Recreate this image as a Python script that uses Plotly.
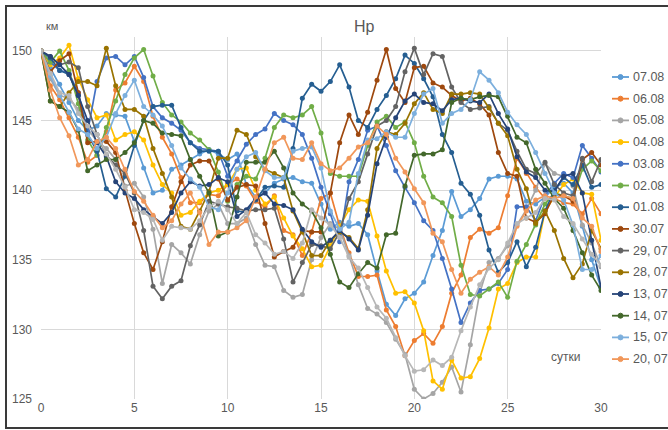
import plotly.graph_objects as go

x_days = [i * 0.5 for i in range(61)]

series_names = ["07.08", "06.08", "05.08", "04.08", "03.08", "02.08", "01.08",
                "30.07", "29, 07", "28, 07", "13, 07", "14, 07", "15, 07", "20, 07", ""]
series_colors = ["#5B9BD5", "#ED7D31", "#A5A5A5", "#FFC000", "#4472C4", "#70AD47", "#255E91",
                 "#9E480E", "#636363", "#997300", "#264478", "#43682B", "#7CAFDD", "#F1975A", "#B7B7B7"]

s0708 = [150, 148.8, 147.6, 146.3, 145, 144.3, 144.6, 145.5, 145.4, 145.3,
         143.5, 141.6, 139.8, 140, 141.5, 141.8, 142.2, 142.6, 142.9, 142.6,
         142.2, 142.6, 140.4, 139.5, 139.8, 140.5, 140.8, 140.9, 140.6, 140.5,
         139, 137.2, 137.7, 137.4, 137.6, 136.8, 134.2, 131.8, 131, 132.2,
         132.6, 133.4, 135.3, 137.1, 139.9, 138.1, 138.6, 139.4, 140.8, 141,
         141, 140.8, 139.2, 139, 139.5, 140.2, 140.5, 139.8, 137.4, 135,
         133]
s0608 = [150, 147.5, 146.5, 145.2, 143.8, 142, 142.5, 144.2, 147.2, 147.7,
         148.9, 147.8, 145.3, 143.8, 142.6, 140.9, 139.1, 139.1, 139.7, 139.6,
         140.4, 140.8, 140.3, 139.2, 138.8, 139.6, 137.1, 136.8, 135.3, 137,
         139.4, 139.8, 137.4, 135.5, 133.8, 133.8, 133.9, 131.4, 130.2, 128.1,
         129.2, 129.7, 129, 130.2, 132.6, 133.9, 136.6, 137.2, 136.9, 137.3,
         139.6, 142.3, 141.2, 140.2, 139.4, 139.4, 139.1, 139, 138.3, 139.4,
         138.3]
s0508 = [150, 148, 146.8, 146.6, 145.8, 144.4, 143.5, 143, 142.2, 140.3,
         140.5, 139.5, 137.2, 133.3, 136.1, 135.5, 134.7, 136.8, 138.5, 139,
         137.6, 137.6, 138, 136.1, 134.6, 134.5, 132.8, 132.3, 132.5, 135,
         136.6, 137.6, 137.2, 135.3, 133.2, 131.5, 131.1, 130.5, 129.3, 128.2,
         125.7, 125, 125.4, 126.2, 127.3, 125.5, 128.9, 132.6, 134.8, 135.1,
         136, 137.5, 138.6, 140, 141.9, 141.2, 141, 140.3, 137.5, 136.2,
         134.5]
s0408 = [150, 149, 149.5, 150.4, 148, 146.5, 145.2, 145.4, 143.6, 144,
         144.2, 143.6, 141.8, 140.4, 139.8, 138.2, 138.4, 139.2, 139.8, 140,
         140.4, 141.5, 141.6, 140, 139, 139.5, 138, 136.7, 135.8, 134.5,
         134.6, 136, 137.4, 138.6, 139.3, 139.2, 136.7, 134.2, 132.6, 132.7,
         131.9, 129.9, 126.3, 125.7, 127.8, 126.5, 126.6, 127.9, 130.1, 132.9,
         133.3, 134.8, 135.2, 135.2, 138.5, 139.5, 140.4, 140.8, 139.8, 139.7,
         136.4]
s0308 = [150, 149.2, 148.6, 148.4, 147, 144.2, 147.8, 149.5, 149.6, 149,
         149.6, 148.1, 146, 145.2, 144.8, 144.3, 143.4, 143, 142.9, 142.8,
         141, 142.1, 143.3, 144, 144.4, 145.5, 145, 144.7, 144, 142.3,
         140.2, 138.3, 136.3, 140.6, 142.2, 144.3, 144.6, 143.2, 141.4, 140.2,
         139.1, 137.8, 137.1, 135.1, 132.9, 130.5, 131.9, 132.8, 132.9, 133.3,
         134.3, 138.8, 138.8, 137.8, 139.6, 140.5, 141.2, 140.9, 143.2, 142.3,
         141.3]
s0208 = [150, 149.2, 150, 148.6, 146.2, 143.6, 142.5, 144.5, 146.4, 148.3,
         149.5, 150.1, 148.2, 146.3, 145.4, 144.9, 144.1, 143.6, 142.9, 141.3,
         139.2, 140.4, 141, 140.8, 142.3, 144.5, 145.4, 145.2, 145.4, 146,
         144.1, 141.2, 141, 141, 141, 143.2, 144.9, 145.3, 144.5, 144.9,
         143.4, 141, 139.5, 139.1, 138.1, 134.6, 132.5, 132.4, 132.9, 133.4,
         132.3, 134.9, 136.1, 137.5, 139, 139.8, 139.6, 139.4, 141.5, 142.1,
         141.4]
s0108 = [150, 149.5, 148.6, 148.3, 146.8, 144, 142.8, 140.1, 139.5, 141,
         143.2, 145, 146, 146.1, 146.1, 144.5, 143.4, 142.8, 142.8, 142.8,
         141.8, 138.5, 138.4, 139.3, 140.2, 140.3, 140.2, 143, 146.6, 147.6,
         147.1, 147.8, 149, 147.4, 145, 144.5, 145.8, 146.8, 148, 149.7,
         149.1, 148, 146.7, 144, 142.7, 140.5, 139.7, 138.2, 135.7, 134.1,
         134.8, 136.3, 134.5, 135.9, 138.5, 140, 140.9, 140.4, 141.8, 140.2,
         140.4]
s3007 = [150, 148.5, 149.3, 149.8, 147, 143.4, 143.5, 143.5, 142.7, 140,
         137.6, 135.5, 134.3, 136.3, 138.8, 140.6, 141.8, 142.1, 142.1, 140.8,
         139.3, 140.2, 140.4, 140.3, 137.6, 135.2, 135.6, 135.9, 137.1, 137,
         137, 139.8, 143.4, 145.4, 144, 145.6, 147.9, 150.1, 147.3, 146.3,
         148.8, 148.9, 147.7, 147.4, 146.8, 146.4, 146.6, 146.2, 145.4, 142.7,
         141.2, 141, 138, 137.7, 138.3, 139.7, 139.6, 139.2, 142.2, 142.7,
         141.8]
s2907 = [150, 149.6, 149, 149.2, 148.8, 146, 144, 142.5, 141.8, 141.2,
         139.8, 137.1, 133.1, 132.2, 133.1, 133.5, 136, 137.5, 139.2, 139,
         138.8, 138.7, 138.5, 138.6, 138.6, 138.7, 136.5, 133.4, 134.8, 136.1,
         136, 135.8, 137, 139.4, 140.6, 142.6, 144.6, 145, 146, 148.5,
         150.2, 148.3, 149.8, 149.6, 147.4, 146.3, 145.8, 145.9, 146, 144.8,
         144.3, 142.8, 141.5, 141.2, 142, 140.4, 139.8, 139.6, 142.3, 140.6,
         142.2]
s2807 = [150, 146.4, 146, 147, 147.8, 147.8, 147.5, 150.2, 147.5, 145.8,
         145.8, 145.3, 143, 141.2, 139.5, 137.4, 137.2, 138.5, 139.9, 142.3,
         142.3, 144.3, 144, 142.4, 141.5, 141.2, 140.9, 138.5, 137, 135.3,
         135.3, 136.4, 137, 136.6, 135.8, 138.6, 143, 144.2, 144, 144.8,
         146.2, 147, 145.8, 145.5, 146.9, 146.9, 147, 146.9, 145.9, 144.8,
         143.9, 141.5, 140.1, 137.6, 138.5, 137.1, 135.1, 133.7, 134.7, 137.1,
         135.8]
s1307 = [150, 149.6, 149, 148.3, 146.8, 145, 143.4, 142.4, 140.6, 139.8,
         139.4, 138.6, 138.1, 137.6, 138.4, 139.8, 140.6, 140.3, 140.4, 140.9,
         140.6, 138.1, 138.6, 139.4, 139.8, 139, 138.9, 138.6, 137.2, 136.3,
         135.9, 136.4, 137.1, 136.5, 135.7, 138.2, 141.9, 143.8, 145.2, 146.4,
         146.9, 146.3, 146.2, 145.7, 146.5, 146.6, 146.4, 146.3, 146.9, 145.5,
         144.4, 142.4, 141.3, 140.9, 140, 139.9, 141, 141.2, 139.8, 136.4,
         133]
s1407 = [150, 146.4, 146, 145.6, 144.3, 141.4, 141.8, 142.2, 142.2, 142.7,
         143.4, 145, 144.8, 144.1, 144, 143.9, 142.2, 141, 139.8, 136.7,
         137, 139.5, 142, 142, 142, 142.8, 141.6, 139.8, 139, 138.5,
         137.3, 135.4, 133.4, 133, 134, 134.8, 134.4, 136.8, 136.9, 140.3,
         142.5, 142.6, 142.6, 142.9, 146.3, 146.6, 146.5, 146.7, 146.8, 146.7,
         145.3, 143.8, 143.4, 141.5, 140.5, 139.4, 138.7, 137.1, 135.5, 133.9,
         132.8]
s1507 = [150, 148.2, 146.8, 145.6, 144.4, 144, 143, 143.8, 145.5, 146.8,
         147.9, 146, 145.4, 144.6, 143.2, 141.6, 140.8, 140.2, 138.8, 138.6,
         139.8, 141.5, 142.4, 142.7, 141.4, 140.9, 140.9, 142.8, 143, 143.1,
         141.6, 138.5, 137.2, 137.7, 141.2, 143.6, 143.7, 144.2, 143.8, 143.8,
         145.5, 146.9, 147.3, 144.8, 145.5, 145.8, 146.5, 148.5, 147.9, 147,
         145.6, 144.7, 144, 142.7, 141.2, 139.8, 139.3, 137.5, 134.3, 134.3,
         135.3]
s2007 = [150, 147.2, 145.2, 143.9, 141.8, 142.2, 143.5, 143.8, 143, 141.5,
         139.9, 139.2, 138.2, 137.3, 137.8, 139, 139.8, 138.4, 136.1, 137,
         137, 137.3, 137.8, 139.5, 141.5, 143.4, 143.8, 142.3, 142.2, 143.4,
         141.9, 141.4, 141.6, 142.3, 143.1, 143.4, 144.6, 144, 142.3, 141.3,
         140.1, 139.1, 136.9, 136.3, 134.3, 132.6, 133.6, 134.1, 134.5, 133.9,
         135.2, 137.4, 138.5, 139.3, 139.6, 139.4, 139.6, 139.4, 138, 137.4,
         135.6]
s_extra = [150, 148.4, 147, 146.8, 145.5, 144.6, 144, 142.6, 141.5, 140.2,
           138.6, 138.4, 137.9, 136.4, 137.4, 137.3, 137.2, 137.8, 138.8, 139.2,
           138.6, 137.6, 138.4, 136.8, 136.2, 135.4, 135.6, 135.1, 136.2, 138.6,
           138, 137.5, 136.6, 135.2, 134.4, 133, 131.6, 130.8, 129.4, 128.1,
           127, 127.1, 127.8, 127.4, 128, 129.9, 131.6, 133.2, 134.4, 135,
           136.2, 137.6, 138, 138.4, 139.4, 139.3, 138.1, 137.6, 136.5, 135.4,
           134.6]

all_series = [s0708, s0608, s0508, s0408, s0308, s0208, s0108,
              s3007, s2907, s2807, s1307, s1407, s1507, s2007, s_extra]

y_ticks = [125, 130, 135, 140, 145, 150]
x_ticks = [0, 5, 10, 15, 20, 25, 30]

FONT = "Liberation Sans, Arial, sans-serif"
TXT = "#595959"
W, H = 668, 430
L, R, T, B = 41, 67, 37, 31
pw, ph = W - L - R, H - T - B

def px2paper_x(px):
    return (px - L) / pw

def px2paper_y(py):
    return (H - B - py) / ph

fig = go.Figure()
for i, (name, col, ys) in enumerate(zip(series_names, series_colors, all_series)):
    fig.add_trace(go.Scatter(
        x=x_days, y=ys, mode="lines+markers", name=name if name else "series 15",
        line=dict(color=col, width=1.7),
        marker=dict(color=col, size=5),
        showlegend=False,
    ))

ann = []
for text, px, py, size in [("Hp", 364, 27, 16), ("км", 52, 26, 11), ("сутки", 565, 357, 12)]:
    ann.append(dict(text=text, x=px2paper_x(px), y=px2paper_y(py), xref="paper", yref="paper",
                    showarrow=False, xanchor="center", yanchor="middle",
                    font=dict(size=size, color=TXT, family=FONT)))

shapes = []
# legend (drawn beside the plot area so the plot keeps its width)
leg_top, leg_step = 77, 21.7
for i, (name, col) in enumerate(zip(series_names, series_colors)):
    if not name:
        continue
    cy = leg_top + i * leg_step
    shapes.append(dict(type="line", xref="paper", yref="paper",
                       x0=px2paper_x(612), x1=px2paper_x(629),
                       y0=px2paper_y(cy), y1=px2paper_y(cy),
                       line=dict(color=col, width=1.8)))
    shapes.append(dict(type="circle", xref="paper", yref="paper",
                       x0=px2paper_x(618), x1=px2paper_x(623),
                       y0=px2paper_y(cy + 2.5), y1=px2paper_y(cy - 2.5),
                       line=dict(color=col, width=1), fillcolor=col))
    ann.append(dict(text=name, x=px2paper_x(631), y=px2paper_y(cy), xref="paper", yref="paper",
                    showarrow=False, xanchor="left", yanchor="middle",
                    font=dict(size=12.5, color=TXT, family=FONT)))

# outer frame
shapes.append(dict(type="rect", xref="paper", yref="paper",
                   x0=px2paper_x(6), x1=px2paper_x(670),
                   y0=px2paper_y(428), y1=px2paper_y(6),
                   line=dict(color="#3a3a3a", width=2), fillcolor="rgba(0,0,0,0)", layer="below"))

fig.update_layout(
    width=W, height=H,
    margin=dict(l=L, r=R, t=T, b=B),
    paper_bgcolor="white", plot_bgcolor="white",
    font=dict(family=FONT, size=12, color=TXT),
    showlegend=False,
    xaxis=dict(range=[0, 30], tickvals=x_ticks, showgrid=True, gridcolor="#D9D9D9",
               gridwidth=1, zeroline=False, showline=False, ticks="",
               tickfont=dict(size=12, color=TXT)),
    yaxis=dict(range=[125, 151], tickvals=y_ticks, showgrid=True, gridcolor="#D9D9D9",
               gridwidth=1, zeroline=False, showline=False, ticks="",
               tickfont=dict(size=12, color=TXT), ticklabelstandoff=8),
    annotations=ann,
    shapes=shapes,
)

fig.write_html("out.html",
               config={"displayModeBar": False},
               post_script="document.body.style.margin='0px';document.body.style.overflow='hidden';")
